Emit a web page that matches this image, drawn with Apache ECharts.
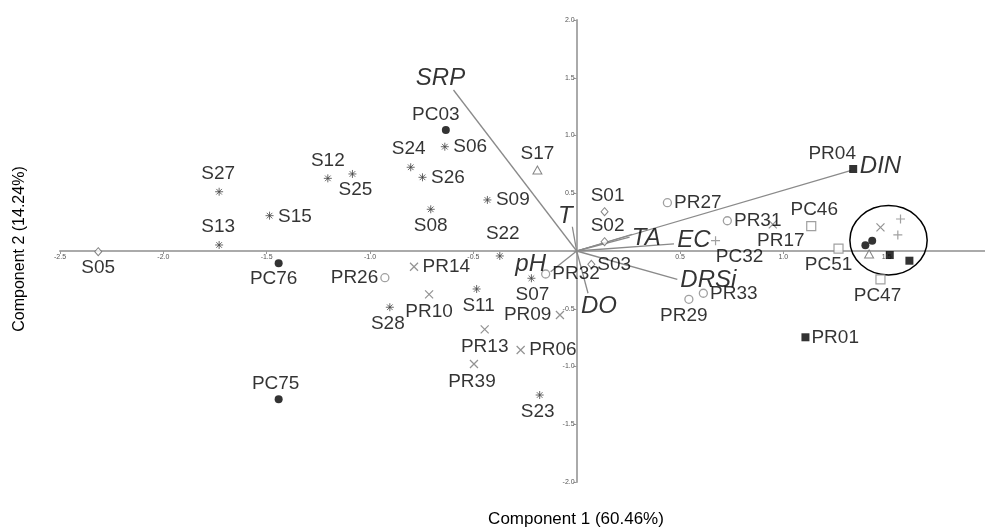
<!DOCTYPE html>
<html>
<head>
<meta charset="utf-8">
<script src="https://cdn.jsdelivr.net/npm/echarts@6/dist/echarts.min.js"></script>
<style>
html,body{margin:0;padding:0;background:#fff;}
#chart{width:985px;height:527px;}
</style>
</head>
<body>
<div id="chart"></div>
<script>
// ---- Data ----
const xTicksMin = -2.5, xTicksMax = 2.0;
const yTicksMin = -2.0, yTicksMax = 2.0;
const tickStep = 0.5;

const asteriskPoints = [
  ['S27', -1.730, 0.513], ['S13', -1.730, 0.052], ['S15', -1.486, 0.306],
  ['S12', -1.204, 0.629], ['S25', -1.085, 0.667], ['S24', -0.803, 0.725],
  ['S26', -0.746, 0.638], ['S06', -0.638, 0.903], ['S08', -0.706, 0.361],
  ['S09', -0.432, 0.442], ['S22', -0.372, -0.043], ['S28', -0.904, -0.487],
  ['S11', -0.484, -0.329], ['S07', -0.219, -0.236], ['S23', -0.179, -1.247]
];
const diamondPoints = [
  ['S05', -2.315, -0.006], ['S01', 0.135, 0.340], ['S02', 0.135, 0.081], ['S03', 0.071, -0.115]
];
const trianglePoints = [
  ['S17', -0.190, 0.701], ['', 1.415, -0.026]
];
const filledCirclePoints = [
  ['PC03', -0.633, 1.048], ['PC76', -1.442, -0.106], ['PC75', -1.442, -1.284],
  ['', 1.397, 0.049], ['', 1.430, 0.089]
];
const openSquarePoints = [
  ['PC46', 1.135, 0.216], ['PC51', 1.267, 0.020], ['PC47', 1.470, -0.245]
];
const plusPoints = [
  ['PC32', 0.672, 0.089], ['', 1.567, 0.277], ['', 1.554, 0.139]
];
const crossPoints = [
  ['PR14', -0.787, -0.136], ['PR10', -0.714, -0.375], ['PR13', -0.445, -0.678],
  ['PR06', -0.271, -0.857], ['PR39', -0.497, -0.978], ['PR09', -0.081, -0.554],
  ['PR17', 0.949, 0.231], ['', 1.470, 0.205]
];
const openCirclePoints = [
  ['PR26', -0.928, -0.231], ['PR32', -0.150, -0.199], ['PR27', 0.439, 0.418],
  ['PR31', 0.729, 0.262], ['PR29', 0.543, -0.418], ['PR33', 0.613, -0.366]
];
const filledSquarePoints = [
  ['PR04', 1.338, 0.710], ['PR01', 1.107, -0.747], ['', 1.515, -0.035], ['', 1.610, -0.084]
];
const vectors = [
  ['SRP', -0.596, 1.394], ['T', -0.021, 0.210], ['pH', -0.126, -0.179],
  ['DO', 0.055, -0.366], ['TA', 0.269, 0.145], ['', 0.256, 0.121],
  ['EC', 0.471, 0.061], ['DRSi', 0.487, -0.245], ['DIN', 1.325, 0.695]
];
const groupEllipse = [[1.509, 0.093, 0.187, 0.300]]; // centre x, centre y, radius x, radius y
const xAxisTitle = 'Component 1 (60.46%)';
const yAxisTitle = 'Component 2 (14.24%)';

// ---- Label placement (style only) ----
const labelPlace = {
  S05:['bottom',0,0], S27:['top',-1,0], S13:['top',-1,0], S15:['right',0,1],
  PC76:['bottom',-5,0],
  S12:['top',0,0], S25:['bottom',3,-2], S24:['top',-2,0], S26:['right',0,0],
  PC03:['top',-10,0], S06:['right',0,0], S08:['bottom',0,-2], S09:['right',0,0],
  S17:['top',0,0], S22:['top',3,-4], PR14:['right',0,0], PR26:['left',0,0],
  S28:['bottom',-2,-1], PR10:['bottom',0,-1], S11:['bottom',2,-1], S07:['bottom',1,-1],
  PR32:['right',0,0], PR09:['left',0,0], PR13:['bottom',0,-1], PR06:['right',0,0],
  PR39:['bottom',-2,0], S23:['bottom',-2,-1], PC75:['top',-3,0], S01:['top',3,0],
  S02:['top',3,0], S03:['right',0,0], PR27:['right',0,0], PR31:['right',0,0],
  PC32:['bottom',24,-2], PR17:['bottom',8,-2], PC46:['top',3,0], PC51:['bottom',-10,-1],
  PC47:['bottom',-3,0], PR04:['top',-21,0], PR01:['right',0,0], PR29:['bottom',-5,0],
  PR33:['right',0,0]
};
const vectorLabelOffset = {
  SRP:[-13,-12], T:[-7,-10], pH:[-20,-7], DO:[11,13], TA:[14,4],
  EC:[20,-4], DRSi:[31,1], DIN:[30,-4]
};

const FONT = "'Liberation Sans', Arial, Helvetica, sans-serif";

// grid layout (pixels)
const W = 985, H = 527;
const G = { left: 60, right: -5, top: 20, bottom: 45 };
const gridW = W - G.left - G.right;
const gridH = H - G.top - G.bottom;
// shift axes so they cross at the origin
const yAxisOffset = -gridW * (0 - xTicksMin) / (xTicksMax - xTicksMin);
const xAxisOffset = -gridH * (0 - yTicksMin) / (yTicksMax - yTicksMin);

function toData(points) {
  return points.map(p => {
    const pl = labelPlace[p[0]];
    const item = { name: p[0], value: [p[1], p[2]] };
    if (pl) {
      item.label = { show: true, position: pl[0], offset: [pl[1], pl[2]] };
    } else {
      item.label = { show: false };
    }
    return item;
  });
}

function scatter(points, symbol, size, itemStyle, z) {
  return {
    type: 'scatter',
    data: toData(points),
    symbol: symbol,
    symbolSize: size,
    itemStyle: itemStyle,
    z: z || 3,
    silent: true,
    label: {
      show: true, formatter: '{b}', color: '#000', fontSize: 19,
      fontFamily: FONT, distance: 2
    }
  };
}

const ASTER = 'path://M5,0 L5,10 M0,5 L10,5 M1.5,1.5 L8.5,8.5 M1.5,8.5 L8.5,1.5';
const CROSS = 'path://M0,0 L10,10 M0,10 L10,0';
const PLUS = 'path://M5,0 L5,10 M0,5 L10,5';

const chart = echarts.init(document.getElementById('chart'), null, { renderer: 'canvas' });

const tickLabel = {
  fontSize: 7, color: '#555', fontFamily: FONT,
  formatter: v => (Math.abs(v) < 1e-9 ? '' : v.toFixed(1))
};

const option = {
  backgroundColor: '#fff',
  animation: false,
  grid: { left: G.left, right: G.right, top: G.top, bottom: G.bottom, containLabel: false, outerBoundsMode: 'none' },
  xAxis: {
    type: 'value', min: xTicksMin, max: xTicksMax, interval: tickStep,
    position: 'bottom', offset: xAxisOffset,
    axisLine: { onZero: false, lineStyle: { color: '#aaa', width: 2 } },
    axisTick: { show: true, length: 3, lineStyle: { color: '#999', width: 1 } },
    axisLabel: Object.assign({ margin: 3 }, tickLabel),
    splitLine: { show: false }
  },
  yAxis: {
    type: 'value', min: yTicksMin, max: yTicksMax, interval: tickStep,
    position: 'left', offset: yAxisOffset,
    axisLine: { onZero: false, lineStyle: { color: '#aaa', width: 2 } },
    axisTick: { show: true, length: 3, lineStyle: { color: '#999', width: 1 } },
    axisLabel: Object.assign({ margin: 2 }, tickLabel),
    splitLine: { show: false }
  },
  graphic: [
    { type: 'text', x: 576, y: 519, style: { text: xAxisTitle, font: '17px ' + FONT, fill: '#000', textAlign: 'center', textVerticalAlign: 'middle' } },
    { type: 'text', x: 20, y: 249, rotation: Math.PI / 2, style: { text: yAxisTitle, font: '16px ' + FONT, fill: '#000', textAlign: 'center', textVerticalAlign: 'middle' } }
  ],
  series: [
    {
      type: 'lines', coordinateSystem: 'cartesian2d', silent: true, z: 2,
      lineStyle: { color: '#8a8a8a', width: 1.3, opacity: 1 },
      data: vectors.map(v => ({ coords: [[0, 0], [v[1], v[2]]] }))
    },
    {
      type: 'scatter', silent: true, z: 4, symbolSize: 0,
      data: vectors.filter(v => v[0]).map(v => ({
        name: v[0], value: [v[1], v[2]],
        label: { offset: vectorLabelOffset[v[0]] }
      })),
      label: {
        show: true, position: 'inside', formatter: '{b}', color: '#000',
        fontSize: 24, fontStyle: 'italic', fontFamily: FONT
      }
    },
    {
      type: 'custom', silent: true, z: 3,
      data: groupEllipse,
      renderItem: function (params, api) {
        const c = api.coord([api.value(0), api.value(1)]);
        const s = api.size([api.value(2), api.value(3)]);
        return {
          type: 'ellipse',
          shape: { cx: c[0], cy: c[1], rx: s[0], ry: s[1] },
          style: { fill: 'none', stroke: '#000', lineWidth: 1.5 }
        };
      }
    },
    scatter(asteriskPoints, ASTER, 8, { color: 'none', borderColor: '#444', borderWidth: 1 }),
    scatter(diamondPoints, 'diamond', [7, 8], { color: '#fff', borderColor: '#666', borderWidth: 1 }),
    scatter(trianglePoints, 'triangle', [9, 8], { color: '#fff', borderColor: '#666', borderWidth: 1 }),
    scatter(filledCirclePoints, 'circle', 8, { color: '#000', borderColor: '#000', borderWidth: 0 }),
    scatter(openSquarePoints, 'rect', 9, { color: '#fff', borderColor: '#888', borderWidth: 1.2 }),
    scatter(plusPoints, PLUS, 9, { color: 'none', borderColor: '#888', borderWidth: 1.2 }),
    scatter(crossPoints, CROSS, 8, { color: 'none', borderColor: '#777', borderWidth: 1.2 }),
    scatter(openCirclePoints, 'circle', 8, { color: '#fff', borderColor: '#888', borderWidth: 1.3 }),
    scatter(filledSquarePoints, 'rect', 8, { color: '#000', borderColor: '#000', borderWidth: 0 })
  ]
};
chart.setOption(option);
</script>
</body>
</html>
